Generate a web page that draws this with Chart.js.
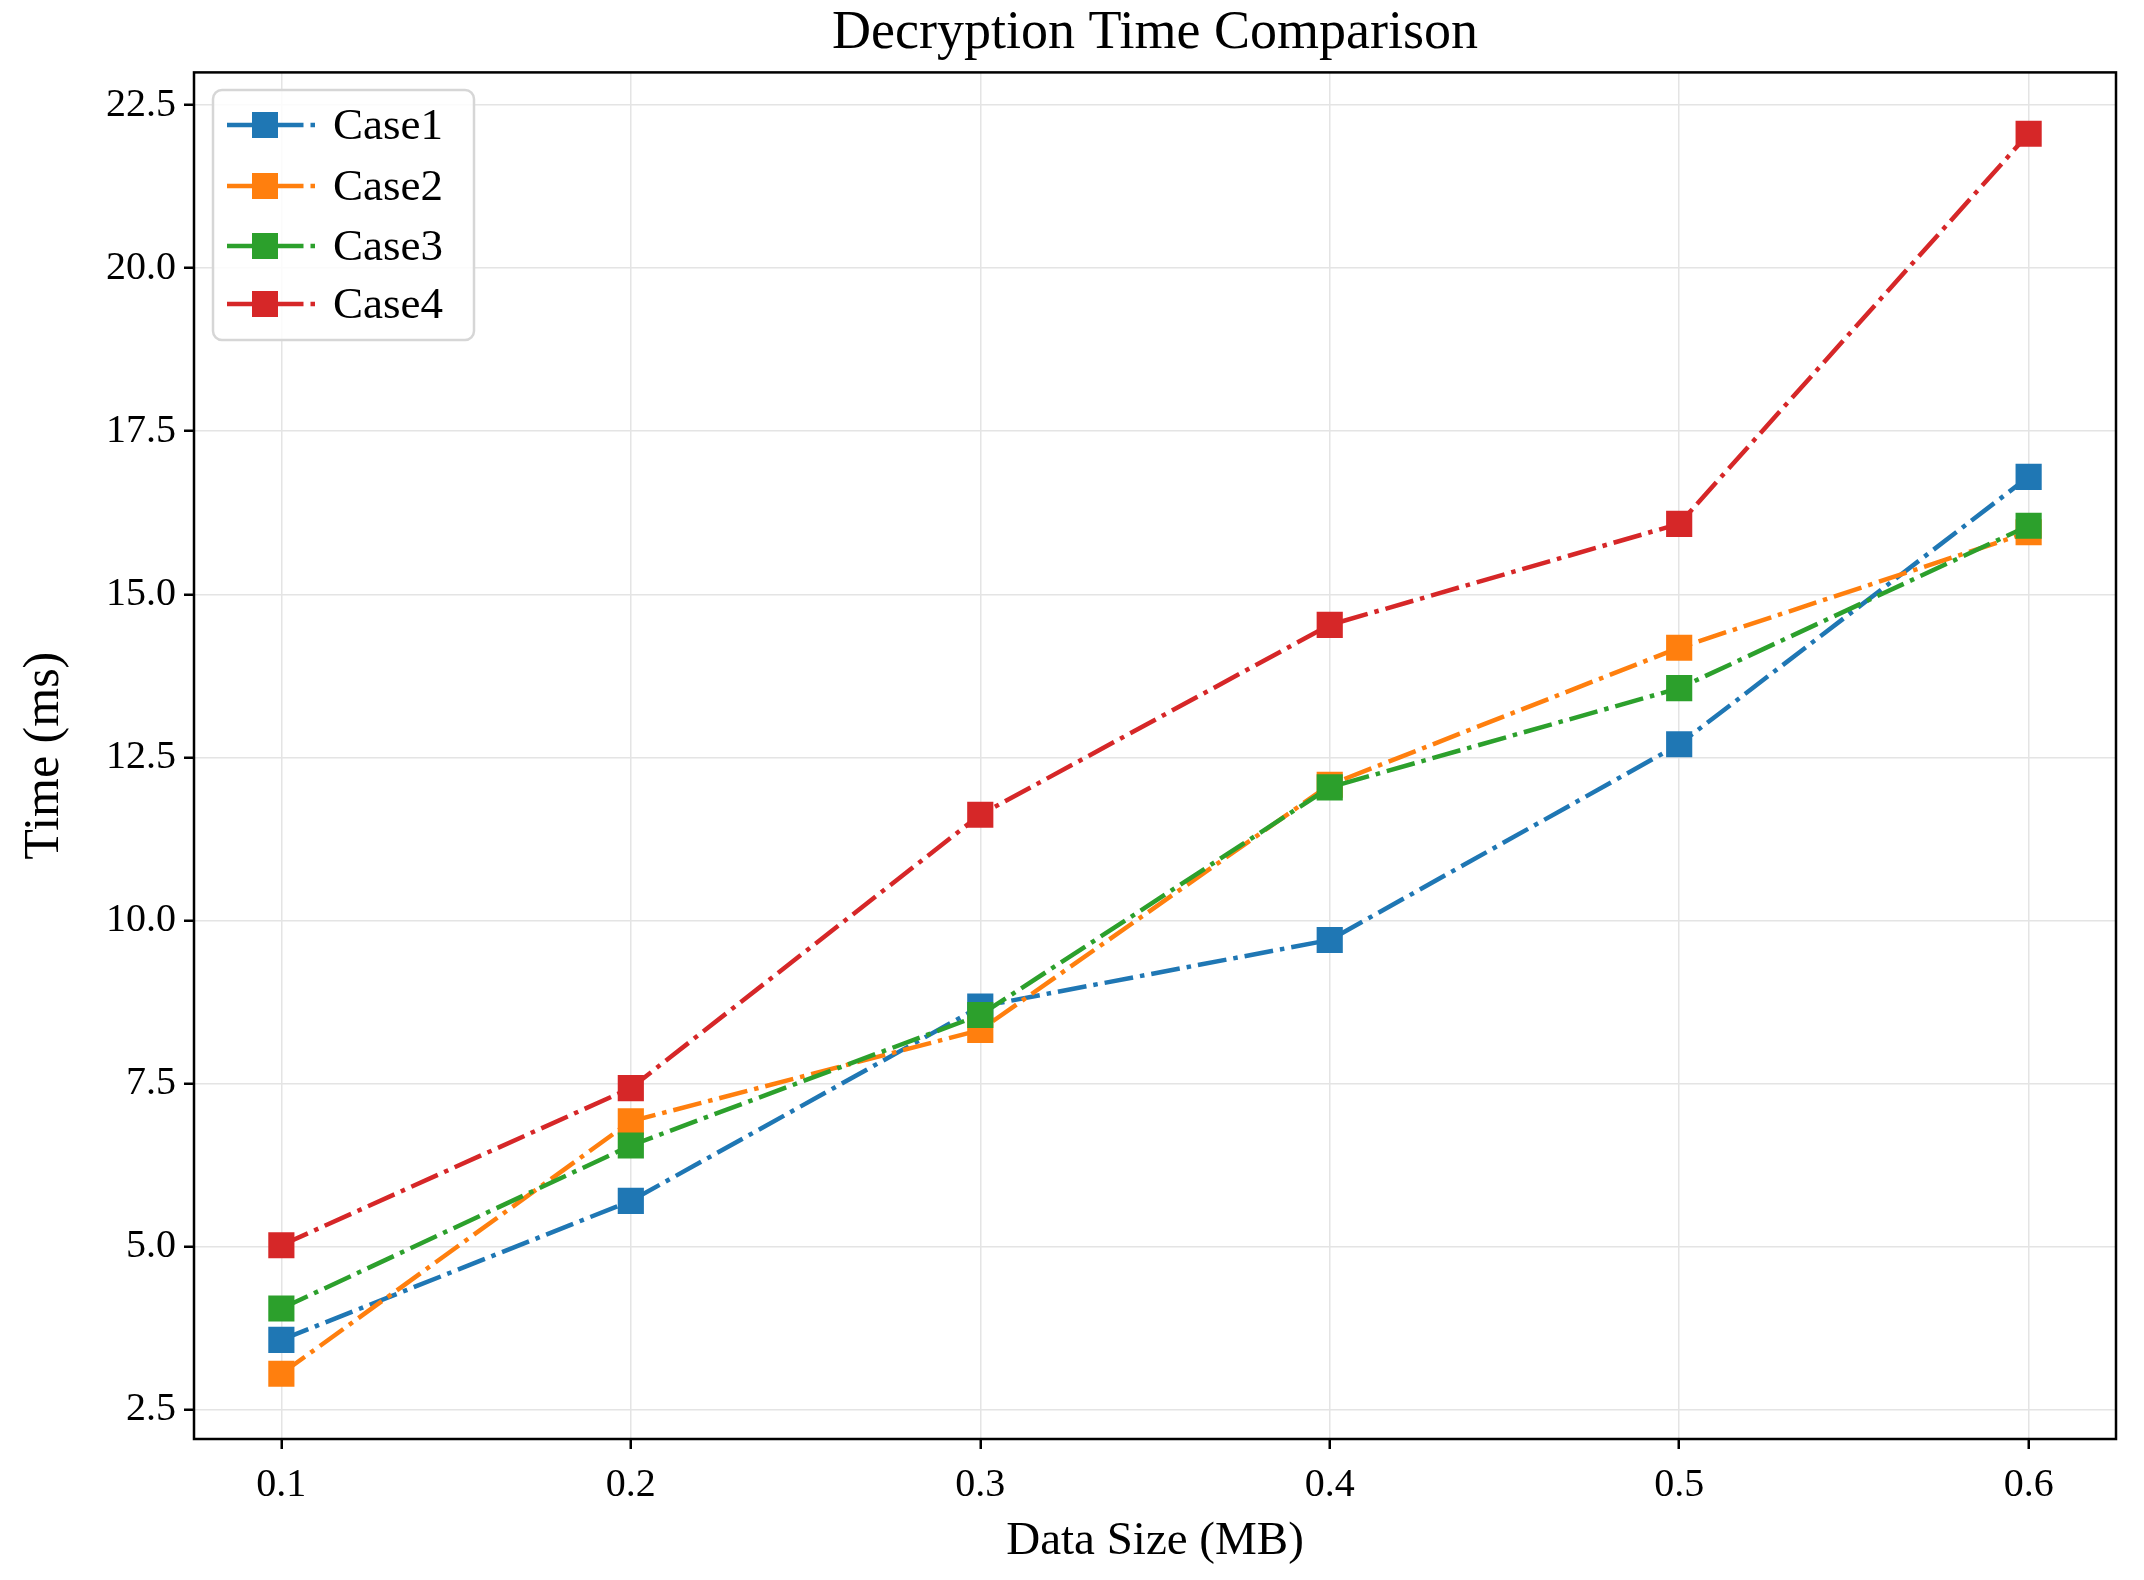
<!DOCTYPE html>
<html>
<head>
<meta charset="utf-8">
<script src="https://cdn.jsdelivr.net/npm/chart.js@4.4.1/dist/chart.umd.min.js"></script>
<style>
  body { margin: 0; background: #fff; }
  canvas { display: block; }
</style>
</head>
<body>
<canvas id="myChart" width="2144" height="1580"></canvas>
<script>
// values
const dataSize = [0.1, 0.2, 0.3, 0.4, 0.5, 0.6];
const case1 = [3.57, 5.70, 8.68, 9.70, 12.70, 16.80];
const case2 = [3.05, 6.92, 8.32, 12.08, 14.18, 15.95];
const case3 = [4.05, 6.55, 8.55, 12.04, 13.56, 16.05];
const case4 = [5.02, 7.43, 11.62, 14.53, 16.08, 22.06];
const seriesNames = ['Case1', 'Case2', 'Case3', 'Case4'];
const xTicks = [0.1, 0.2, 0.3, 0.4, 0.5, 0.6];
const yTicks = [2.5, 5.0, 7.5, 10.0, 12.5, 15.0, 17.5, 20.0, 22.5];

const colorHex = ['#1f77b4', '#ff7f0e', '#2ca02c', '#d62728'];
const serif = 'Liberation Serif';
const dashDot = [29, 7, 4.5, 7];

let allCases = [case1, case2, case3, case4];
let datasets = allCases.map(function (vals, i) {
  return {
    label: seriesNames[i],
    data: vals.map((v, k) => ({ x: dataSize[k], y: v })),
    borderColor: colorHex[i],
    backgroundColor: colorHex[i],
    borderWidth: 4.5,
    borderDash: dashDot,
    borderCapStyle: 'butt',
    pointStyle: 'rect',
    pointRadius: 18.5,
    pointBorderWidth: 0,
    pointBackgroundColor: colorHex[i],
    order: 3 - i,
    tension: 0
  };
});

// center the title over the plot area, not the whole canvas
const titleOverPlot = {
  id: 'titleOverPlot',
  afterLayout(chart) {
    const tb = chart.titleBlock, a = chart.chartArea;
    if (!tb) return;
    tb.left = a.left;
    tb.right = a.right;
    tb.width = a.right - a.left;
  }
};

// black box round the plot, like matplotlib spines
const frame = {
  id: 'frame',
  afterDatasetsDraw(chart) {
    const a = chart.chartArea, ctx = chart.ctx;
    ctx.save();
    ctx.strokeStyle = '#000';
    ctx.lineWidth = 2.5;
    ctx.strokeRect(a.left, a.top, a.right - a.left, a.bottom - a.top);
    ctx.restore();
  }
};

// legend inside the plot, upper left
const innerLegend = {
  id: 'innerLegend',
  afterDraw(chart) {
    const ctx = chart.ctx;
    const bx = 213, by = 90, bw = 261, bh = 250, r = 9;
    ctx.save();
    ctx.beginPath();
    ctx.roundRect(bx, by, bw, bh, r);
    ctx.fillStyle = 'rgba(255,255,255,0.85)';
    ctx.fill();
    ctx.strokeStyle = '#d6d6d6';
    ctx.lineWidth = 2.5;
    ctx.stroke();
    const rows = [125, 186, 246, 304];
    chart.data.datasets.forEach(function (ds, i) {
      const y = rows[i];
      ctx.beginPath();
      ctx.setLineDash(dashDot);
      ctx.lineCap = 'butt';
      ctx.strokeStyle = ds.borderColor;
      ctx.lineWidth = 4.5;
      ctx.moveTo(227, y);
      ctx.lineTo(316, y);
      ctx.stroke();
      ctx.setLineDash([]);
      ctx.fillStyle = ds.borderColor;
      ctx.fillRect(252, y - 13, 26, 26);
      ctx.fillStyle = '#000';
      ctx.font = '45px "' + serif + '"';
      ctx.textBaseline = 'middle';
      ctx.fillText(ds.label, 333, y + 2);
    });
    ctx.restore();
  }
};

let ctx = document.getElementById('myChart').getContext('2d');
let myChart = new Chart(ctx, {
  type: 'line',
  data: { datasets: datasets },
  plugins: [titleOverPlot, frame, innerLegend],
  options: {
    responsive: false,
    maintainAspectRatio: false,
    devicePixelRatio: 1,
    animation: false,
    layout: { padding: { top: 1, right: 28, bottom: 0, left: 0 } },
    plugins: {
      legend: { display: false },
      tooltip: { enabled: false },
      title: {
        display: true,
        text: 'Decryption Time Comparison',
        color: '#000',
        font: { family: serif, size: 54, weight: 'normal', lineHeight: 1.1 },
        padding: { top: 3, bottom: 9 }
      }
    },
    scales: {
      x: {
        type: 'linear',
        min: 0.075,
        max: 0.625,
        afterBuildTicks: function (scale) { scale.ticks = xTicks.map(v => ({ value: v })); },
        afterFit: function (scale) { scale.height = 141; },
        border: { display: false },
        grid: { color: '#e4e4e4', lineWidth: 1.5, tickColor: '#000', tickLength: 10, tickWidth: 2.5 },
        ticks: {
          color: '#000',
          padding: 12,
          maxRotation: 0,
          font: { family: serif, size: 40 },
          callback: v => v.toFixed(1)
        },
        title: {
          display: true,
          text: 'Data Size (MB)',
          color: '#000',
          font: { family: serif, size: 47, lineHeight: 1.2 },
          padding: { top: 0, bottom: 10 }
        }
      },
      y: {
        type: 'linear',
        min: 2.05,
        max: 23.0,
        afterBuildTicks: function (scale) { scale.ticks = yTicks.map(v => ({ value: v })); },
        afterFit: function (scale) { scale.width = 194; },
        border: { display: false },
        grid: { color: '#e4e4e4', lineWidth: 1.5, tickColor: '#000', tickLength: 10, tickWidth: 2.5 },
        ticks: {
          color: '#000',
          padding: 8,
          font: { family: serif, size: 40 },
          callback: v => v.toFixed(1)
        },
        title: {
          display: true,
          text: 'Time (ms)',
          color: '#000',
          font: { family: serif, size: 50, lineHeight: 1.2 },
          padding: { top: 15, bottom: 0 }
        }
      }
    }
  }
});
</script>
</body>
</html>
